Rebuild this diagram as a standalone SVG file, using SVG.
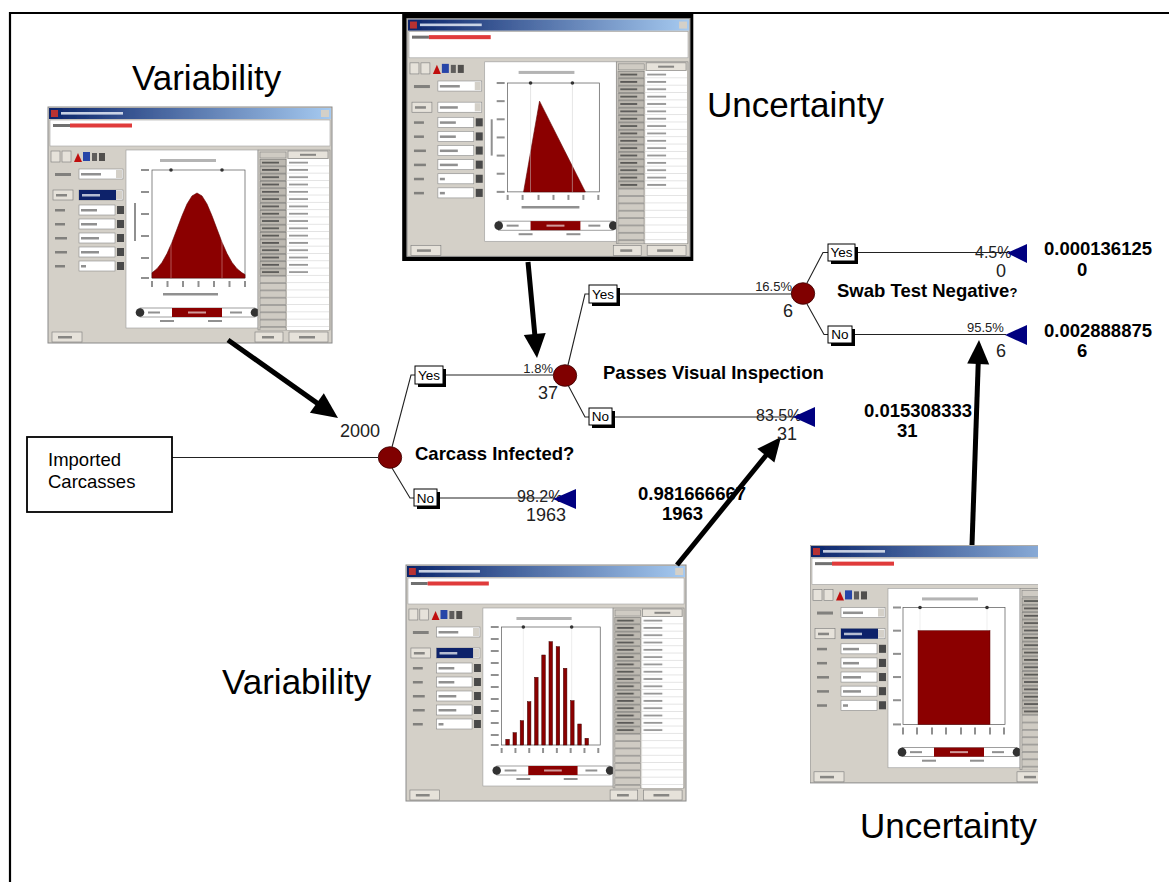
<svg xmlns="http://www.w3.org/2000/svg" width="1169" height="882" viewBox="0 0 1169 882">
  <style>
    text { font-family: "Liberation Sans", Arial, Helvetica, sans-serif; fill: #000; }
    .big { font-size: 35px; }
    .q { font-size: 18.5px; font-weight: bold; }
    .val { font-size: 18.5px; font-weight: bold; }
    .ps { font-size: 13px; fill: #222; }
    .pl { font-size: 16px; fill: #222; }
    .cnt { font-size: 18px; fill: #222; }
    .bt { font-size: 13.5px; text-anchor: middle; }
    .branch { stroke: #222; stroke-width: 1.1; fill: none; }
    .shaft { stroke: #000; stroke-width: 5; fill: none; }
    .head { fill: #000; }
    .node { fill: #800000; stroke: #3a0000; stroke-width: 0.8; }
    .term { fill: #000080; }
    .bshadow { fill: #000; }
    .bbox { fill: #fff; stroke: #000; stroke-width: 1; }
    .win { filter: url(#soft); }
    .txtbar { fill: #555; opacity: 0.65; }
    .inp { fill: #fff; stroke: #8a8a8a; stroke-width: 0.6; }
    .btn { fill: #e6e2da; stroke: #7a7a7a; stroke-width: 0.6; }
    .spin { fill: #4a4a4a; }
    .axes { fill: none; stroke: #555; stroke-width: 0.7; }
    .dred { fill: #8b0000; }
  </style>
  <defs>
    <filter id="soft" x="-3%" y="-3%" width="106%" height="106%">
      <feGaussianBlur stdDeviation="0.45"/>
    </filter>
    <linearGradient id="tb" x1="0" y1="0" x2="1" y2="0">
      <stop offset="0" stop-color="#0a246a"/>
      <stop offset="1" stop-color="#a6caf0"/>
    </linearGradient>
    <pattern id="rowsTxt" patternUnits="userSpaceOnUse" x="0" y="52" width="284" height="7.3">
      <rect x="212" y="0.4" width="26" height="6.5" fill="#bdb9b1" stroke="#6a6a6a" stroke-width="0.5"/>
      <rect x="214" y="2.7" width="17" height="1.8" fill="#303030" opacity="0.7"/>
      <rect x="239" y="0" width="42" height="7.3" fill="#fff"/>
      <rect x="241" y="2.7" width="19" height="1.8" fill="#404040" opacity="0.55"/>
      <line x1="239" y1="7.05" x2="281" y2="7.05" stroke="#b8b8b8" stroke-width="0.5"/>
    </pattern>
    <pattern id="rowsEmpty" patternUnits="userSpaceOnUse" x="0" y="52" width="284" height="7.3">
      <rect x="212" y="0.4" width="26" height="6.5" fill="#cfcbc3" stroke="#7a7a7a" stroke-width="0.5"/>
      <rect x="239" y="0" width="42" height="7.3" fill="#fff"/>
      <line x1="239" y1="7.05" x2="281" y2="7.05" stroke="#b8b8b8" stroke-width="0.5"/>
    </pattern>
    <clipPath id="clipNarrow">
      <rect x="0" y="0" width="228" height="240"/>
    </clipPath>

    <!-- generic distribution dialog chrome, local 284 x 236 -->
    <g id="dlg">
      <rect x="0" y="0" width="284" height="236" fill="#d4d0c8" stroke="#8a8a8a" stroke-width="1"/>
      <!-- title bar -->
      <rect x="1" y="1" width="282" height="11" fill="url(#tb)"/>
      <rect x="3" y="3" width="7" height="7" fill="#b83030"/>
      <rect x="13" y="5" width="62" height="2.6" fill="#e6ecf6" opacity="0.85"/>
      <rect x="273" y="3" width="8" height="7" fill="#d4d0c8"/>
      <!-- formula field -->
      <rect x="2" y="13" width="280" height="26" fill="#fff" stroke="#a0a0a0" stroke-width="0.6"/>
      <rect x="5" y="17" width="17" height="3" fill="#707070"/>
      <rect x="22" y="16.5" width="62" height="4" fill="#e03a3a"/>
      <!-- toolbar -->
      <rect x="3" y="44" width="9" height="11" class="btn"/>
      <rect x="14" y="44" width="9" height="11" class="btn"/>
      <path d="M26,55 L30,46 L34,55 Z" fill="#c01010"/>
      <rect x="35" y="45" width="7" height="9" fill="#2844a8"/>
      <rect x="44" y="46" width="5" height="8" fill="#404040" opacity="0.8"/>
      <rect x="51" y="46" width="6" height="8" fill="#303030" opacity="0.8"/>
      <!-- graph selector -->
      <rect x="7" y="66" width="16" height="3" class="txtbar"/>
      <rect x="31" y="62" width="44" height="10" class="inp"/>
      <rect x="33" y="66" width="20" height="2.5" class="txtbar"/>
      <rect x="68" y="63" width="6" height="8" fill="#d4d0c8"/>
      <!-- distribution selector -->
      <rect x="5" y="83" width="20" height="10" class="btn"/>
      <rect x="8" y="87" width="11" height="2.5" class="txtbar"/>
      <rect x="31" y="83" width="44" height="10" class="inp"/>
      <rect x="68" y="84" width="6" height="8" fill="#d4d0c8"/>
      <!-- parameter rows -->
      <g>
        <rect x="7" y="102" width="10" height="2.5" class="txtbar"/>
        <rect x="31" y="98" width="36" height="10" class="inp"/>
        <rect x="33" y="102" width="16" height="2.5" class="txtbar"/>
        <rect x="69" y="99" width="7" height="8" class="spin"/>
        <rect x="7" y="116" width="10" height="2.5" class="txtbar"/>
        <rect x="31" y="112" width="36" height="10" class="inp"/>
        <rect x="33" y="116" width="16" height="2.5" class="txtbar"/>
        <rect x="69" y="113" width="7" height="8" class="spin"/>
        <rect x="7" y="130" width="12" height="2.5" class="txtbar"/>
        <rect x="31" y="126" width="36" height="10" class="inp"/>
        <rect x="33" y="130" width="18" height="2.5" class="txtbar"/>
        <rect x="69" y="127" width="7" height="8" class="spin"/>
        <rect x="7" y="144" width="12" height="2.5" class="txtbar"/>
        <rect x="31" y="140" width="36" height="10" class="inp"/>
        <rect x="33" y="144" width="18" height="2.5" class="txtbar"/>
        <rect x="69" y="141" width="7" height="8" class="spin"/>
        <rect x="7" y="158" width="10" height="2.5" class="txtbar"/>
        <rect x="31" y="154" width="36" height="10" class="inp"/>
        <rect x="33" y="158" width="5" height="2.5" class="txtbar"/>
        <rect x="69" y="155" width="7" height="8" class="spin"/>
      </g>
      <!-- chart panel -->
      <rect x="78" y="43" width="132" height="178" fill="#fff" stroke="#9a9a9a" stroke-width="0.6"/>
      <rect x="112" y="52" width="56" height="3" fill="#777" opacity="0.55"/>
      <!-- range slider -->
      <rect x="92" y="201" width="115" height="9" fill="#fff" stroke="#606060" stroke-width="0.6"/>
      <rect x="124" y="201" width="50" height="9" class="dred"/>
      <rect x="140" y="204.5" width="18" height="2" fill="#fff" opacity="0.6"/>
      <circle cx="92" cy="205.5" r="4.3" fill="#303030"/>
      <circle cx="207" cy="205.5" r="4.3" fill="#303030"/>
      <rect x="100" y="204.5" width="12" height="2" class="txtbar"/>
      <rect x="182" y="204.5" width="12" height="2" class="txtbar"/>
      <rect x="112" y="213" width="14" height="2" class="txtbar"/>
      <rect x="160" y="213" width="14" height="2" class="txtbar"/>
      <!-- statistics table -->
      <rect x="210" y="43" width="72" height="180" fill="#d4d0c8" stroke="#808080" stroke-width="0.6"/>
      <rect x="212" y="45" width="26" height="6" fill="#cfcbc3" stroke="#7a7a7a" stroke-width="0.5"/>
      <rect x="240" y="44" width="40" height="7.5" class="btn"/>
      <rect x="252" y="46.8" width="16" height="2" class="txtbar"/>
      <rect x="210" y="52" width="72" height="117" fill="url(#rowsTxt)"/>
      <rect x="210" y="169" width="72" height="54" fill="url(#rowsEmpty)"/>
      <!-- buttons -->
      <rect x="4" y="225" width="30" height="10" class="btn"/>
      <rect x="10" y="229" width="14" height="2.5" class="txtbar"/>
      <rect x="207" y="225" width="28" height="10" class="btn"/>
      <rect x="214" y="229" width="12" height="2.5" class="txtbar"/>
      <rect x="241" y="225" width="39" height="10" class="btn"/>
      <rect x="251" y="229" width="16" height="2.5" class="txtbar"/>
    </g>
  </defs>

  <rect width="1169" height="882" fill="#fff"/>

  <!-- page frame -->
  <g id="frame">
    <line x1="10" y1="13" x2="1169" y2="13" stroke="#000" stroke-width="2.2"/>
    <line x1="10" y1="12" x2="10" y2="882" stroke="#000" stroke-width="2.2"/>
  </g>

  <!-- input distribution dialogs -->
  <g id="win-normal" class="win" transform="translate(48,107)">
    <use href="#dlg"/>
    <rect x="31" y="83" width="37" height="10" fill="#0a246a"/>
    <rect x="34" y="87" width="18" height="2.5" fill="#fff" opacity="0.7"/>
    <rect x="104" y="63" width="93" height="108" class="axes"/>
    <g class="txtbar">
      <rect x="93" y="62" width="8" height="2"/><rect x="93" y="84" width="8" height="2"/>
      <rect x="93" y="106" width="8" height="2"/><rect x="93" y="128" width="8" height="2"/>
      <rect x="93" y="150" width="8" height="2"/><rect x="93" y="170" width="8" height="2"/>
      <rect x="86" y="96" width="2" height="38"/>
      <rect x="103" y="174" width="2" height="6"/><rect x="118.5" y="174" width="2" height="6"/>
      <rect x="134" y="174" width="2" height="6"/><rect x="149.5" y="174" width="2" height="6"/>
      <rect x="165" y="174" width="2" height="6"/><rect x="180.5" y="174" width="2" height="6"/>
      <rect x="196" y="174" width="2" height="6"/>
      <rect x="115" y="186" width="55" height="2.5"/>
    </g>
    <path class="dred" stroke="#600000" stroke-width="0.6" stroke-linejoin="round"
      d="M104,171 L104,165.8 L109,161.7 L114,155.4 L119,146.6 L124,135.2 L129,122.1 L134,108.8 L139,97 L144,88.9 L149,86 L154,88.9 L159,97 L164,108.8 L169,122.1 L174,135.2 L179,146.6 L184,155.4 L189,161.7 L194,165.8 L197,167.5 L197,171 Z"/>
    <line x1="123" y1="63" x2="123" y2="171" stroke="#fff" stroke-width="0.7" opacity="0.5"/>
    <line x1="174" y1="63" x2="174" y2="171" stroke="#fff" stroke-width="0.7" opacity="0.5"/>
    <circle cx="123" cy="63" r="1.8" fill="#333"/>
    <circle cx="174" cy="63" r="1.8" fill="#333"/>
  </g>

  <g id="win-triang">
    <rect x="404.5" y="16.2" width="286.5" height="242.5" fill="none" stroke="#000" stroke-width="4.6"/>
    <g class="win" transform="translate(407,18.5) scale(0.9965,1.008)">
      <use href="#dlg"/>
      <rect x="7" y="172" width="10" height="2.5" class="txtbar"/>
      <rect x="31" y="168" width="36" height="10" class="inp"/>
      <rect x="33" y="172" width="5" height="2.5" class="txtbar"/>
      <rect x="69" y="169" width="7" height="8" class="spin"/>
      <rect x="33" y="87" width="18" height="2.5" class="txtbar"/>
      <rect x="101" y="64" width="92" height="108" class="axes"/>
      <g class="txtbar">
        <rect x="90" y="63" width="8" height="2"/><rect x="90" y="81" width="8" height="2"/>
        <rect x="90" y="99" width="8" height="2"/><rect x="90" y="117" width="8" height="2"/>
        <rect x="90" y="135" width="8" height="2"/><rect x="90" y="153" width="8" height="2"/>
        <rect x="90" y="171" width="8" height="2"/>
        <rect x="84" y="100" width="2" height="36"/>
        <rect x="100" y="175" width="2" height="5"/><rect x="115" y="175" width="2" height="5"/>
        <rect x="131" y="175" width="2" height="5"/><rect x="146" y="175" width="2" height="5"/>
        <rect x="161" y="175" width="2" height="5"/><rect x="176" y="175" width="2" height="5"/>
        <rect x="191" y="175" width="2" height="5"/>
        <rect x="115" y="186" width="58" height="2.5"/>
      </g>
      <path class="dred" stroke="#600000" stroke-width="0.6" d="M117,172 L133,82 L179,172 Z"/>
      <line x1="124" y1="64" x2="124" y2="172" stroke="#ccc" stroke-width="0.5"/>
      <line x1="166" y1="64" x2="166" y2="172" stroke="#ccc" stroke-width="0.5"/>
      <circle cx="124" cy="64" r="1.8" fill="#333"/>
      <circle cx="166" cy="64" r="1.8" fill="#333"/>
    </g>
  </g>

  <g id="win-binomial" class="win" transform="translate(406,565) scale(0.986,1)">
    <use href="#dlg"/>
    <rect x="31" y="83" width="37" height="10" fill="#0a246a"/>
    <rect x="34" y="87" width="18" height="2.5" fill="#fff" opacity="0.7"/>
    <rect x="97" y="62" width="100" height="118" class="axes"/>
    <g class="txtbar">
      <rect x="86" y="61" width="8" height="2"/><rect x="86" y="73" width="8" height="2"/>
      <rect x="86" y="85" width="8" height="2"/><rect x="86" y="97" width="8" height="2"/>
      <rect x="86" y="109" width="8" height="2"/><rect x="86" y="121" width="8" height="2"/>
      <rect x="86" y="133" width="8" height="2"/><rect x="86" y="145" width="8" height="2"/>
      <rect x="86" y="157" width="8" height="2"/><rect x="86" y="169" width="8" height="2"/>
      <rect x="86" y="179" width="8" height="2"/>
      <rect x="96" y="183" width="2" height="5"/><rect x="110" y="183" width="2" height="5"/>
      <rect x="124" y="183" width="2" height="5"/><rect x="138" y="183" width="2" height="5"/>
      <rect x="152" y="183" width="2" height="5"/><rect x="166" y="183" width="2" height="5"/>
      <rect x="180" y="183" width="2" height="5"/><rect x="194" y="183" width="2" height="5"/>
    </g>
    <line x1="119" y1="62" x2="119" y2="180" stroke="#ddd" stroke-width="0.5"/>
    <line x1="168" y1="62" x2="168" y2="180" stroke="#ddd" stroke-width="0.5"/>
    <g class="dred" stroke="#3a0000" stroke-width="0.5">
      <rect x="101.2" y="174.3" width="3.6" height="5.7"/>
      <rect x="108.5" y="167.7" width="3.6" height="12.3"/>
      <rect x="115.8" y="155.7" width="3.6" height="24.3"/>
      <rect x="123.1" y="136.7" width="3.6" height="43.3"/>
      <rect x="130.4" y="112.3" width="3.6" height="67.7"/>
      <rect x="137.7" y="90" width="3.6" height="90"/>
      <rect x="145" y="76.7" width="3.6" height="103.3"/>
      <rect x="152.3" y="81.7" width="3.6" height="98.3"/>
      <rect x="159.6" y="103.3" width="3.6" height="76.7"/>
      <rect x="166.9" y="135.7" width="3.6" height="44.3"/>
      <rect x="174.2" y="159" width="3.6" height="21"/>
      <rect x="181.5" y="173.3" width="3.6" height="6.7"/>
    </g>
    <circle cx="119" cy="62" r="1.8" fill="#333"/>
    <circle cx="168" cy="62" r="1.8" fill="#333"/>
  </g>

  <g id="win-uniform" class="win" transform="translate(810,545) scale(1,1.008)">
    <g clip-path="url(#clipNarrow)">
      <use href="#dlg"/>
      <rect x="31" y="83" width="37" height="10" fill="#0a246a"/>
      <rect x="34" y="87" width="18" height="2.5" fill="#fff" opacity="0.7"/>
      <rect x="93" y="62" width="102" height="116" class="axes"/>
      <g class="txtbar">
        <rect x="83" y="61" width="8" height="2"/><rect x="83" y="84" width="8" height="2"/>
        <rect x="83" y="107" width="8" height="2"/><rect x="83" y="130" width="8" height="2"/>
        <rect x="83" y="153" width="8" height="2"/><rect x="83" y="177" width="8" height="2"/>
        <rect x="92" y="181" width="2" height="7"/><rect x="106" y="181" width="2" height="7"/>
        <rect x="121" y="181" width="2" height="7"/><rect x="135" y="181" width="2" height="7"/>
        <rect x="150" y="181" width="2" height="7"/><rect x="164" y="181" width="2" height="7"/>
        <rect x="179" y="181" width="2" height="7"/><rect x="193" y="181" width="2" height="7"/>
      </g>
      <line x1="110" y1="62" x2="110" y2="178" stroke="#ddd" stroke-width="0.5"/>
      <line x1="177" y1="62" x2="177" y2="178" stroke="#ddd" stroke-width="0.5"/>
      <rect x="108" y="85" width="72" height="93" class="dred" stroke="#5a0000" stroke-width="0.5"/>
      <circle cx="110" cy="62" r="1.8" fill="#333"/>
      <circle cx="177" cy="62" r="1.8" fill="#333"/>
    </g>
  </g>

  <!-- captions -->
  <g id="caption-variability-top"><text class="big" x="132" y="90">Variability</text></g>
  <g id="caption-uncertainty-top"><text class="big" x="707" y="117">Uncertainty</text></g>
  <g id="caption-variability-bottom"><text class="big" x="222" y="694">Variability</text></g>
  <g id="caption-uncertainty-bottom"><text class="big" x="860" y="838">Uncertainty</text></g>

  <!-- tree branches and pointer arrows -->
  <g id="connectors">
    <path class="branch" d="M172,457.5 H378"/>
    <path class="branch" d="M392,447 L411,375 H415"/>
    <path class="branch" d="M392,468 L410,498 H414"/>
    <path class="branch" d="M443,375 H553"/>
    <path class="branch" d="M437,498 H555"/>
    <path class="branch" d="M568,365 L585,294 H589"/>
    <path class="branch" d="M568,385 L585,417 H589"/>
    <path class="branch" d="M617,294 H792"/>
    <path class="branch" d="M612,417 H795"/>
    <path class="branch" d="M807,283 L823,252.5 H828"/>
    <path class="branch" d="M807,304 L824,334.5 H828"/>
    <path class="branch" d="M855,252.5 H1008"/>
    <path class="branch" d="M852,334.5 H1006"/>

    <g id="arrow-to-root">
      <line class="shaft" x1="228" y1="340" x2="321.7" y2="406.4"/>
      <polygon class="head" points="338,418 309.9,412.7 323.8,393.2"/>
    </g>
    <g id="arrow-to-infected">
      <line class="shaft" x1="528" y1="262" x2="535.3" y2="340"/>
      <polygon class="head" points="537,358 523.8,335.1 545.7,333.1"/>
    </g>
    <g id="arrow-to-visual-no">
      <line class="shaft" x1="677" y1="565" x2="769.6" y2="451"/>
      <polygon class="head" points="781,437 774.4,462.6 757.3,448.7"/>
    </g>
    <g id="arrow-to-swab-no">
      <line class="shaft" x1="972" y1="545" x2="978.4" y2="358"/>
      <polygon class="head" points="979,340 989.2,364.4 967.2,363.6"/>
    </g>
  </g>

  <g id="node-imported">
    <rect x="27" y="437" width="145" height="75" fill="#fff" stroke="#000" stroke-width="1.8"/>
    <text x="48" y="466" font-size="18.5">Imported</text>
    <text x="48" y="488" font-size="18.5">Carcasses</text>
  </g>

  <g id="node-carcass-infected">
    <ellipse class="node" cx="390" cy="457.5" rx="11.7" ry="10.8"/>
    <text class="cnt" x="340" y="437">2000</text>
    <text class="q" x="415" y="460">Carcass Infected?</text>
  </g>

  <g id="branch-infected-yes">
    <rect class="bshadow" x="418" y="369" width="28" height="18"/>
    <rect class="bbox" x="415" y="366" width="28" height="18"/>
    <text class="bt" x="429" y="380">Yes</text>
  </g>
  <g id="branch-infected-no">
    <rect class="bshadow" x="417" y="492" width="23" height="17"/>
    <rect class="bbox" x="414" y="489" width="23" height="17"/>
    <text class="bt" x="425.5" y="502.5">No</text>
  </g>

  <g id="end-not-infected">
    <text class="pl" x="517" y="502">98.2%</text>
    <text class="cnt" x="526" y="521">1963</text>
    <polygon class="term" points="553,499 576,489 576,509"/>
  </g>

  <g id="node-visual-inspection">
    <ellipse class="node" cx="565" cy="375.5" rx="11.7" ry="10.8"/>
    <text class="ps" x="553" y="373" text-anchor="end">1.8%</text>
    <text class="cnt" x="538" y="399">37</text>
    <text class="q" x="603" y="379">Passes Visual Inspection</text>
  </g>

  <g id="branch-visual-yes">
    <rect class="bshadow" x="592" y="288" width="28" height="18"/>
    <rect class="bbox" x="589" y="285" width="28" height="18"/>
    <text class="bt" x="603" y="298.5">Yes</text>
  </g>
  <g id="branch-visual-no">
    <rect class="bshadow" x="592" y="411" width="23" height="17"/>
    <rect class="bbox" x="589" y="408" width="23" height="17"/>
    <text class="bt" x="600.5" y="421">No</text>
  </g>

  <g id="end-visual-no">
    <text class="pl" x="756" y="421">83.5%</text>
    <text class="cnt" x="777" y="440">31</text>
    <polygon class="term" points="793,417 815,407 815,427"/>
  </g>

  <g id="node-swab-test">
    <ellipse class="node" cx="803" cy="293.5" rx="11.7" ry="10.8"/>
    <text class="ps" x="792" y="291" text-anchor="end">16.5%</text>
    <text class="cnt" x="783" y="317">6</text>
    <text class="q" x="837" y="297">Swab Test Negative<tspan font-size="13">?</tspan></text>
  </g>

  <g id="branch-swab-yes">
    <rect class="bshadow" x="831" y="247" width="27" height="17"/>
    <rect class="bbox" x="828" y="244" width="27" height="17"/>
    <text class="bt" x="841.5" y="257">Yes</text>
  </g>
  <g id="branch-swab-no">
    <rect class="bshadow" x="831" y="329" width="24" height="17"/>
    <rect class="bbox" x="828" y="326" width="24" height="17"/>
    <text class="bt" x="840" y="339">No</text>
  </g>

  <g id="end-swab-yes">
    <text class="pl" x="975" y="258">4.5%</text>
    <text class="cnt" x="996" y="277">0</text>
    <polygon class="term" points="1007,253 1027,244 1027,263"/>
  </g>
  <g id="end-swab-no">
    <text class="ps" x="967" y="332">95.5%</text>
    <text class="cnt" x="996" y="357">6</text>
    <polygon class="term" points="1005,335 1027,325 1027,345"/>
  </g>

  <!-- path probabilities and counts -->
  <g id="result-swab-yes">
    <text class="val" x="1044" y="255">0.000136125</text>
    <text class="val" x="1077" y="276">0</text>
  </g>
  <g id="result-swab-no">
    <text class="val" x="1044" y="337">0.002888875</text>
    <text class="val" x="1077" y="357">6</text>
  </g>
  <g id="result-visual-no">
    <text class="val" x="864" y="417">0.015308333</text>
    <text class="val" x="897" y="437">31</text>
  </g>
  <g id="result-not-infected">
    <text class="val" x="638" y="500">0.981666667</text>
    <text class="val" x="662" y="520">1963</text>
  </g>
</svg>
